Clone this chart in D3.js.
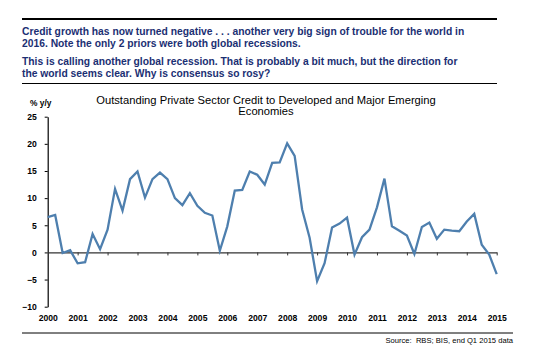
<!DOCTYPE html>
<html>
<head>
<meta charset="utf-8">
<script src="https://cdnjs.cloudflare.com/ajax/libs/d3/7.8.5/d3.min.js"></script>
<style>
    body { margin: 0; background: #fff; }
    svg { font-family: "Liberation Sans", Arial, sans-serif; }
    .head { fill: #1b2f73; font-weight: bold; font-size: 10.3px; }
    .tick text { font-weight: bold; font-size: 8.6px; fill: #000; }
</style>
</head>
<body>
<svg id="chart" width="539" height="361"></svg>
<script>
// quarterly growth, 2000 Q1 .. 2015 Q1 (% y/y)
var startYear = 2000;
var creditGrowth = [
    6.5, 6.9, -0.1, 0.4,
    -2.0, -1.8, 3.4, 0.6,
    4.2, 11.7, 7.7, 13.5,
    14.9, 10.1, 13.5, 14.7,
    13.5, 10.0, 8.7, 10.9,
    8.6, 7.3, 6.8, 0.3,
    4.8, 11.4, 11.5, 14.9,
    14.3, 12.5, 16.5, 16.6,
    20.1, 17.8, 7.9, 2.7,
    -5.3, -2.0, 4.6, 5.3,
    6.4, -0.4, 2.8, 4.2,
    8.3, 13.6, 4.8, 4.0,
    3.1, -0.3, 4.7, 5.5,
    2.5, 4.2, 4.0, 3.9,
    5.7, 7.1, 1.4, -0.4,
    -4.0
];
var yearTicks = d3.range(2000, 2016);
var yTicks = [-10, -5, 0, 5, 10, 15, 20, 25];

var headLines = [
    "Credit growth has now turned negative . . . another very big sign of trouble for the world in",
    "2016. Note the only 2 priors were both global recessions.",
    "This is calling another global recession. That is probably a bit much, but the direction for",
    "the world seems clear. Why is consensus so rosy?"
];
var titleLines = [
    "Outstanding Private Sector Credit to Developed and Major Emerging",
    "Economies"
];

var svg = d3.select("#chart");

// header block with rules
svg.append("line").attr("x1", 22).attr("x2", 497).attr("y1", 19).attr("y2", 19)
    .attr("stroke", "#000").attr("stroke-width", 2);
svg.append("line").attr("x1", 22).attr("x2", 497).attr("y1", 83.5).attr("y2", 83.5)
    .attr("stroke", "#000").attr("stroke-width", 1);
var headY = [35, 46.5, 65, 76.5];
svg.selectAll("text.head").data(headLines).enter().append("text")
    .attr("class", "head")
    .attr("x", 22)
    .attr("y", function (d, i) { return headY[i]; })
    .text(function (d) { return d; });

// scales
var x = d3.scaleLinear().domain([2000, 2015]).range([47.7, 496.7]);
var y = d3.scaleLinear().domain([-10, 25]).range([306.7, 116.7]);

// chart title
svg.selectAll("text.title").data(titleLines).enter().append("text")
    .attr("x", 266)
    .attr("y", function (d, i) { return 104 + i * 11; })
    .attr("text-anchor", "middle")
    .attr("font-size", "11.2px")
    .text(function (d) { return d; });

svg.append("text")
    .attr("x", 30).attr("y", 106)
    .attr("font-size", "8.4px").attr("font-weight", "bold")
    .text("% y/y");

// y axis
var yAxis = svg.append("g")
    .attr("transform", "translate(" + x(2000) + ",0)")
    .call(d3.axisLeft(y).tickValues(yTicks).tickSize(3).tickPadding(8).tickSizeOuter(0));
yAxis.select(".domain").attr("stroke-width", 1.2);

// zero line with ticks pointing down
var zeroAxis = svg.append("g")
    .attr("transform", "translate(0," + y(0) + ")")
    .call(d3.axisBottom(x).tickValues(yearTicks.slice(1)).tickSize(3).tickSizeOuter(0).tickFormat(""));
zeroAxis.select(".domain").attr("stroke", "#333").attr("stroke-width", 1.2);
zeroAxis.selectAll(".tick line").attr("stroke", "#333");

// year labels under the plot
var yearAxis = svg.append("g")
    .attr("transform", "translate(0," + y(-10) + ")")
    .call(d3.axisBottom(x).tickValues(yearTicks).tickSize(0).tickPadding(8).tickFormat(d3.format("d")));
yearAxis.select(".domain").remove();

// the line
var line = d3.line()
    .x(function (d, i) { return x(startYear + i / 4); })
    .y(function (d) { return y(d); });

svg.append("path")
    .datum(creditGrowth)
    .attr("fill", "none")
    .attr("stroke", "#4e7fae")
    .attr("stroke-width", 2.3)
    .attr("stroke-linejoin", "miter")
    .attr("d", line);

// footer
svg.append("line").attr("x1", 22).attr("x2", 513).attr("y1", 333).attr("y2", 333)
    .attr("stroke", "#000").attr("stroke-width", 1);
svg.append("text")
    .attr("x", 513).attr("y", 343)
    .attr("text-anchor", "end")
    .attr("font-size", "7.6px")
    .attr("xml:space", "preserve")
    .text("Source:  RBS; BIS, end Q1 2015 data");
</script>
</body>
</html>
